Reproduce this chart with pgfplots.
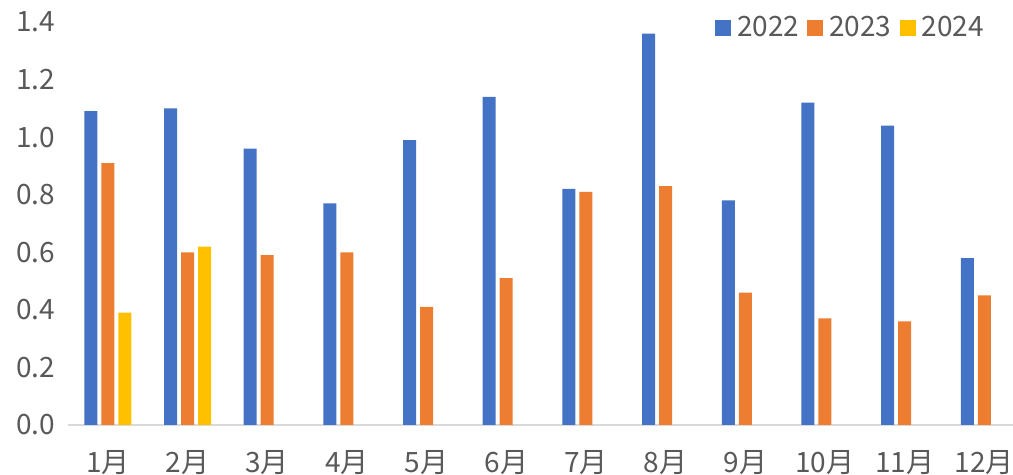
\documentclass[border=0pt]{standalone}
\usepackage{pgfplots}
\pgfplotsset{compat=1.18}
\usepackage{pgfplotstable}
\usepackage{fontspec}
\setmainfont{Noto Sans CJK KR}
\definecolor{cA}{HTML}{4472C4}
\definecolor{cB}{HTML}{ED7D31}
\definecolor{cC}{HTML}{FFC000}
\definecolor{txt}{HTML}{595959}
\pgfplotstableread{
x a b
0 1.09 0.91
1 1.10 0.60
2 0.96 0.59
3 0.77 0.60
4 0.99 0.41
5 1.14 0.51
6 0.82 0.81
7 1.36 0.83
8 0.78 0.46
9 1.12 0.37
10 1.04 0.36
11 0.58 0.45
}\data
\begin{document}
\begin{tikzpicture}
\begin{axis}[
  scale only axis,
  width=472.5pt, height=201.5pt,
  ybar=2pt, bar width=6.5pt,
  xmin=-0.5, xmax=11.36,
  ymin=0, ymax=1.4,
  ytick={0,0.2,...,1.4},
  yticklabel style={xshift=-3pt, /pgf/number format/fixed, /pgf/number format/fixed zerofill, /pgf/number format/precision=1},
  /pgf/number format/assume math mode=true,
  xtick=data,
  xticklabels={1月,2月,3月,4月,5月,6月,7月,8月,9月,10月,11月,12月},
  tick style={draw=none},
  axis y line*=left,
  axis x line*=bottom,
  y axis line style={draw=none},
  x axis line style={draw=black!15, line width=1pt, -},
  separate axis lines,
  font=\fontsize{14}{16}\selectfont,
  tick label style={text=txt},
  xticklabel style={yshift=-5pt},
  legend columns=3,
  legend style={draw=none, fill=none, at={(0.98,1.035)}, anchor=north east,
    font=\fontsize{14}{16}\selectfont, text=txt,
    /tikz/every even column/.append style={column sep=2pt}},
  legend image code/.code={\fill[#1] (0pt,-4pt) rectangle (8pt,4pt); \path (9pt,0pt);},
]
\addplot[fill=cA, draw=none] table[x=x,y=a]{\data};
\addplot[fill=cB, draw=none] table[x=x,y=b]{\data};
\addplot[fill=cC, draw=none] coordinates {(0,0.39) (1,0.62)};
\legend{2022,2023,2024}
\end{axis}
\pgfresetboundingbox
\path[use as bounding box] ([xshift=-34pt,yshift=-25pt]current axis.south west) rectangle ([yshift=11pt]current axis.north east);
\end{tikzpicture}
\end{document}
